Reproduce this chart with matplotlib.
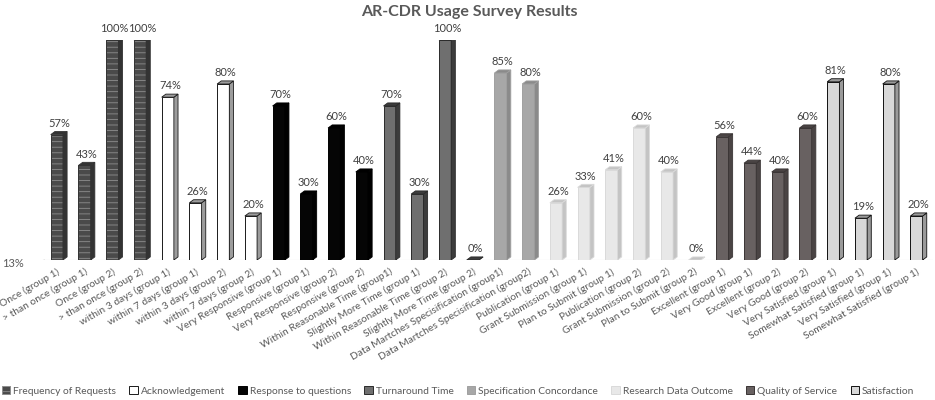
import matplotlib
matplotlib.use("Agg")
import matplotlib.pyplot as plt
from matplotlib.patches import Polygon, Patch
import numpy as np

labels = [
    "Once (group 1)", "> than once (group 1)", "Once (group 2)", "> than once (group 2)",
    "within 3 days (group 1)", "within 7 days (group 1)", "within 3 days (group 2)", "within 7 days (group 2)",
    "Very Responsive (group 1)", "Responsive (group 1)", "Very Responsive (group 2)", "Responsive (group 2)",
    "Within Reasonable Time (group1)", "Slightly More Time (group 1)",
    "Within Reasonable Time (group 2)", "Slightly More Time (group 2)",
    "Data Martches Specisification (group1)", "Data Martches Specisification (group2)",
    "Publication (group 1)", "Grant Submission (group 1)", "Plan to Submit (group 1)",
    "Publication (group 2)", "Grant Submission (group 2)", "Plan to Submit (group 2)",
    "Excellent (group 1)", "Very Good (group 1)", "Excellent (group 2)", "Very Good (group 2)",
    "Very Satisfied (group 1)", "Somewhat Satisfied (group 1)",
    "Very Satisfied (group 1)", "Somewhat Satisfied (group 1)",
]
values = [57, 43, 100, 100, 74, 26, 80, 20, 70, 30, 60, 40, 70, 30, 100, 0,
          85, 80, 26, 33, 41, 60, 40, 0, 56, 44, 40, 60, 81, 19, 80, 20]
series_names = ["Frequency of Requests", "Acknowledgement", "Response to questions",
                "Turnaround Time", "Specification Concordance", "Research Data Outcome",
                "Quality of Service", "Satisfaction"]
series_sizes = [4, 4, 4, 4, 2, 6, 4, 4]

# face, side, edge, hatch
styles = [
    ("#4a4a4a", "#333333", "#8e8e8e", "---"),
    ("#ffffff", "#9c9c9c", "#1a1a1a", None),
    ("#050505", "#000000", "#000000", None),
    ("#6f6f6f", "#3c3c3c", "#2a2a2a", None),
    ("#a7a7a7", "#8a8a8a", "#a0a0a0", None),
    ("#e8e8e8", "#c4c4c4", "#dadada", None),
    ("#686161", "#4a4444", "#3a3535", None),
    ("#d8d8d8", "#9a9a9a", "#111111", None),
]

plt.rcParams["font.family"] = ["Lato", "DejaVu Sans"]
plt.rcParams["hatch.linewidth"] = 0.6

fig = plt.figure(figsize=(9.35, 4.0), dpi=100)
ax = fig.add_axes([0.043, 0.35, 0.955, 0.55])

series_idx = np.repeat(np.arange(len(series_sizes)), series_sizes)
x = np.arange(len(values))
w = 0.44
dx, dy = 0.15, 1.4

for xi, v, si in zip(x, values, series_idx):
    face, side, edge, hatch = styles[si]
    ax.bar(xi, v, width=w, color=face, edgecolor=edge, linewidth=0.7, hatch=hatch, zorder=3)
    if hatch:
        ax.bar(xi, v, width=w, fill=False, edgecolor="#333333", linewidth=0.7, zorder=3)
    r = xi + w / 2
    ec = "#333333" if hatch else edge
    ax.add_patch(Polygon([(r, 0), (r + dx, dy), (r + dx, v + dy), (r, v)],
                         closed=True, facecolor=side, edgecolor=ec, linewidth=0.6, zorder=3))
    ax.add_patch(Polygon([(xi - w / 2, v), (r, v), (r + dx, v + dy), (xi - w / 2 + dx, v + dy)],
                         closed=True, facecolor=side, edgecolor=ec, linewidth=0.6, zorder=3))
    ax.text(xi + dx / 2, v + dy + 1.2, f"{v}%", ha="center", va="bottom",
            fontsize=8, color="#404040")

ax.plot([-0.45, 31.6], [0, 0], color="#d9d9d9", linewidth=0.8, zorder=1)
ax.plot([-0.75, -0.45], [-1.5, 0], color="#d9d9d9", linewidth=0.8, zorder=1)
ax.text(-1.2, -1.5, "13%", ha="right", va="center", fontsize=8, color="#595959")

ax.set_xlim(-0.6, 31.6)
ax.set_ylim(0, 100)
ax.set_xticks(x)
ax.set_xticklabels(labels, rotation=30, ha="right", rotation_mode="anchor",
                   fontsize=7.4, color="#595959")
ax.tick_params(axis="x", length=0, pad=5)
ax.set_yticks([])
for s in ax.spines.values():
    s.set_visible(False)
ax.patch.set_alpha(0)

handles = []
for name, (face, side, edge, hatch) in zip(series_names, styles):
    handles.append(Patch(facecolor=face, edgecolor=edge if hatch is None else "#8e8e8e",
                         hatch=hatch, linewidth=0.7, label=name))
fig.legend(handles=handles, loc="lower center", bbox_to_anchor=(0.49, -0.012), ncol=8,
           frameon=False, fontsize=7.4, handlelength=0.8, handleheight=0.8,
           handletextpad=0.3, columnspacing=1.3, labelcolor="#595959")

fig.text(0.502, 0.97, "AR-CDR Usage Survey Results", ha="center", va="center",
         fontsize=11.5, fontweight="bold", color="#595959")

fig.savefig("out.png", dpi=100, facecolor="white")
